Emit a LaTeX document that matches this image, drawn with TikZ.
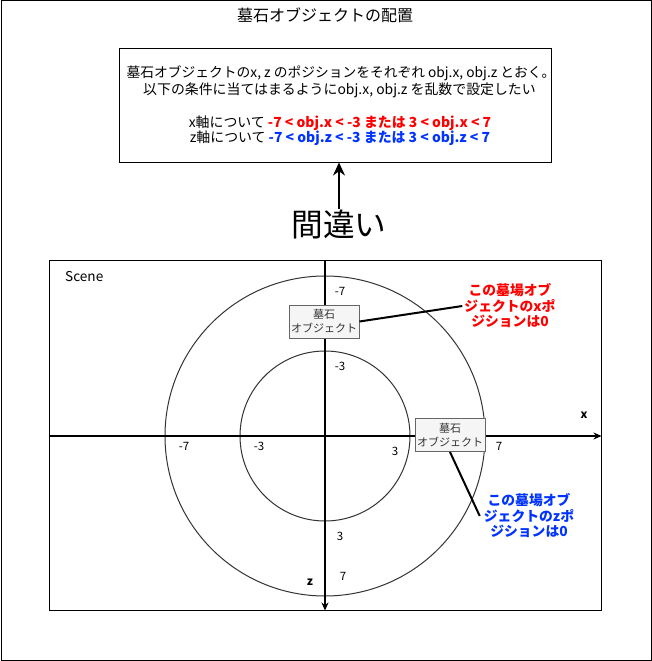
\documentclass[tikz,border=0pt]{standalone}
\usepackage{fontspec}
\setmainfont{Noto Sans CJK JP}
\usetikzlibrary{arrows.meta}
\definecolor{tombfill}{HTML}{F5F5F5}
\definecolor{tombdraw}{HTML}{666666}
\definecolor{tombtext}{HTML}{333333}
\definecolor{redtxt}{HTML}{FF0000}
\definecolor{bluetxt}{HTML}{0033FF}
\definecolor{circcol}{HTML}{333333}
\begin{document}
\begin{tikzpicture}[x=1pt,y=-1pt,
  frame/.style={draw=black, line width=1pt},
  titletext/.style={inner sep=0pt, font=\fontsize{16}{18}\selectfont},
  desc/.style={inner sep=0pt, font=\fontsize{13.9}{16}\selectfont},
  condbox/.style={draw=black, line width=1pt, minimum width=432pt, minimum height=113pt, inner sep=0pt},
  bigtext/.style={inner sep=0pt, font=\fontsize{31.7}{36}\selectfont},
  bigarrow/.style={line width=2pt, -{Stealth[length=13pt,width=12pt]}},
  scenebox/.style={draw=black, line width=1pt, minimum width=552pt, minimum height=350pt, inner sep=0pt},
  scenelabel/.style={inner sep=0pt, anchor=west, font=\fontsize{13.6}{16}\selectfont},
  circ/.style={draw=circcol, line width=1pt},
  axis/.style={draw=black, line width=1.2pt, -{Stealth[length=8pt,width=7pt]}},
  num/.style={inner sep=0pt, font=\fontsize{11.5}{13}\selectfont},
  axlabel/.style={inner sep=0pt, font=\bfseries\fontsize{11.5}{13}\selectfont},
  tomb/.style={draw=tombdraw, fill=tombfill, text=tombtext, line width=1pt, minimum width=70pt, minimum height=33pt, inner sep=0pt, align=center, font=\fontsize{11}{14}\selectfont},
  note/.style={inner sep=0pt, align=center, font=\bfseries\fontsize{13.8}{15.5}\selectfont},
  callout/.style={draw=black, line width=2pt}
]
\useasboundingbox (0,0) rectangle (652,661);
\draw[frame] (1,1) rectangle (651,660);
\node[titletext] (title) at (325,15) {墓石オブジェクトの配置};

\node[condbox] (cond) at (335,105.5) {};
\node[desc, font=\fontsize{13.75}{16}\selectfont] (l1) at (341,73) {墓石オブジェクトのx, z のポジションをそれぞれ obj.x, obj.z とおく。};
\node[desc] (l2) at (339.5,90) {以下の条件に当てはまるようにobj.x, obj.z を乱数で設定したい};
\node[desc] (l3) at (340,123.5) {x軸について \textcolor{redtxt}{\bfseries -7 < obj.x < -3 または 3 < obj.x < 7}};
\node[desc] (l4) at (340,138) {z軸について \textcolor{bluetxt}{\bfseries -7 < obj.z < -3 または 3 < obj.z < 7}};

\node[bigtext] (wrong) at (339,224) {間違い};
\draw[bigarrow] (wrong.north) -- (wrong.north |- cond.south);

\node[scenebox] (scene) at (325,435) {};
\node[scenelabel] (scenelbl) at (65,277) {Scene};

\coordinate (origin) at (325,436);
\draw[circ] (origin) circle[radius=160];
\draw[circ] (origin) circle[radius=85];
\draw[axis] (scene.west |- origin) -- (scene.east |- origin);
\draw[axis] (scene.north -| origin) -- (scene.south -| origin);

\node[num] (zm7) at (340,291) {-7};
\node[num] (zm3) at (340,366) {-3};
\node[num] (xm7) at (184,446) {-7};
\node[num] (xm3) at (259,446) {-3};
\node[num] (xp3) at (395,451) {3};
\node[num] (xp7) at (499,446) {7};
\node[num] (zp3) at (340,536) {3};
\node[num] (zp7) at (343,576) {7};
\node[axlabel] (xlbl) at (584,415) {x};
\node[axlabel] (zlbl) at (310,582) {z};

\node[tomb] (t1) at (324,321.5) {墓石\\オブジェクト};
\node[tomb] (t2) at (450,435) {墓石\\オブジェクト};

\node[note, text=redtxt] (rednote) at (510,306) {この墓場オブ\\ジェクトのxポ\\ジションは0};
\node[note, text=bluetxt] (bluenote) at (529,516) {この墓場オブ\\ジェクトのzポ\\ジションは0};

\draw[callout] (t1.east) -- ([xshift=-2pt]rednote.west);
\draw[callout] (t2.south) -- ([xshift=-4pt]bluenote.west);
\end{tikzpicture}
\end{document}
